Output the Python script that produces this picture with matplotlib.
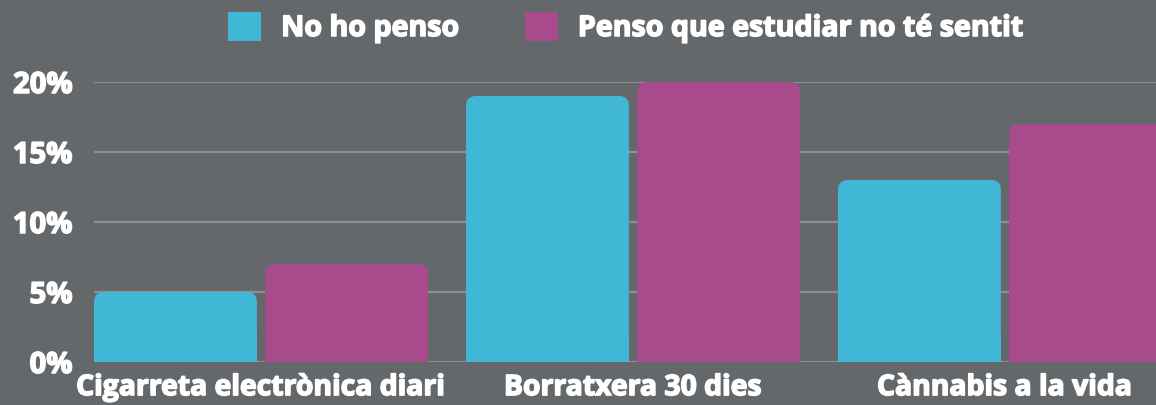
import matplotlib
matplotlib.use("Agg")
from matplotlib import pyplot as plt
from matplotlib.patches import FancyBboxPatch, Rectangle, Patch
import matplotlib.patheffects as pe

categories = ["Cigarreta electrònica diari", "Borratxera 30 dies", "Cànnabis a la vida"]
no_ho_penso = [5, 19, 13]
no_te_sentit = [7, 20, 17]
series_names = ["No ho penso", "Penso que estudiar no té sentit"]
yticks = [0, 5, 10, 15, 20]

bg = "#64686b"
cyan = "#41b7d6"
magenta = "#a84b8c"
grid_col = "#8c8f92"

plt.rcParams["font.family"] = ["Open Sans", "DejaVu Sans"]
plt.rcParams["font.weight"] = "bold"
# Open Sans is only here as a variable font, so thicken it a bit
bold = [pe.withStroke(linewidth=1.1, foreground="white")]

W, H = 1156, 405
fig = plt.figure(figsize=(W / 100, H / 100), dpi=100, facecolor=bg)
ax = fig.add_axes([94 / W, 43 / H, 1 - 94 / W, (362 - 82) / H])
ax.set_facecolor(bg)

x0, x1 = -0.449, 2.406
ax.set_xlim(x0, x1)
ax.set_ylim(0, 20)

width = 0.438
off = 0.23
xs = list(range(len(categories)))

px_x = (x1 - x0) / (W - 94)      # data units per pixel, x
px_y = 20 / (362 - 82)           # data units per pixel, y
r = 10                           # corner radius in px

def rounded_bars(xpos, vals, color):
    bars = ax.bar(xpos, vals, width, color=color, zorder=3)
    for b in bars:
        b.set_visible(False)
        bx, by = b.get_x(), b.get_y()
        bw, bh = b.get_width(), b.get_height()
        p = FancyBboxPatch((bx, by), bw, bh,
                           boxstyle="round,pad=0,rounding_size=%f" % (r * px_x),
                           mutation_aspect=px_y / px_x,
                           fc=color, ec="none", zorder=3, clip_on=False)
        ax.add_patch(p)
        ax.add_patch(Rectangle((bx, by), bw, min(bh / 2, 2), fc=color, ec="none", zorder=3))

rounded_bars([x - off for x in xs], no_ho_penso, cyan)
rounded_bars([x + off for x in xs], no_te_sentit, magenta)

ax.set_yticks(yticks)
ax.set_yticklabels(["%d%%" % t for t in yticks])
ax.yaxis.grid(True, color=grid_col, linewidth=1.6, zorder=0)
ax.set_axisbelow(True)
ax.set_xticks(xs)
ax.set_xticklabels(categories)
ax.tick_params(axis="y", length=0, pad=15.5, labelsize=21, labelcolor="white")
ax.tick_params(axis="x", length=0, pad=8, labelsize=20.4, labelcolor="white")
for t in ax.get_xticklabels() + ax.get_yticklabels():
    t.set_path_effects(bold)
for s in ax.spines.values():
    s.set_visible(False)

handles = [Patch(fc=cyan, ec="none"), Patch(fc=magenta, ec="none")]
leg = fig.legend(handles, series_names, loc="center", bbox_to_anchor=(0.5407, 0.932),
                 ncol=2, frameon=False, fontsize=20.6, labelcolor="white",
                 handlelength=1.16, handleheight=1.16, handletextpad=0.7,
                 columnspacing=2.3, borderpad=0, borderaxespad=0)
for t in leg.get_texts():
    t.set_path_effects(bold)

fig.savefig("out.png", dpi=100, facecolor=bg)
